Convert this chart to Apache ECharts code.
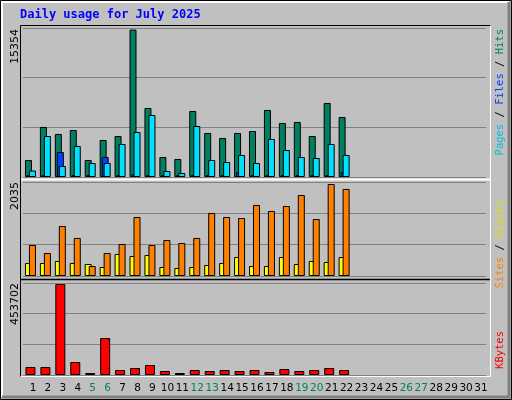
<!DOCTYPE html>
<html><head><meta charset="utf-8">
<script src="https://cdn.jsdelivr.net/npm/echarts@6/dist/echarts.min.js"></script>
<style>html,body{margin:0;padding:0;background:#c0c0c0}#c{width:512px;height:400px}</style>
</head><body><div id="c"></div>
<script>
// jours du mois
const days = Array.from({ length: 31 }, (_, i) => String(i + 1));
const weekend = ['5', '6', '12', '13', '19', '20', '26', '27'];

// panneau haut
const hits  = [1771,5210,4481,4897,1771,3855,4272,15354,7190,2084,1876,6877,4585,4064,4585,4793,6981,5627,5731,4272,7711,6252];
const files = [208,208,2605,208,208,2084,208,300,208,208,208,208,208,208,521,208,208,208,208,208,208,521];
const pages = [677,4272,1146,3230,1459,1459,3439,4689,6460,625,417,5314,1771,1563,2292,1459,3960,2813,2084,1980,3439,2292];
// panneau milieu
const visits = [288,288,332,288,265,199,487,442,465,199,177,199,243,288,420,221,221,420,265,332,310,420];
const sites  = [686,509,1106,841,221,509,708,1305,686,796,730,841,1394,1305,1283,1571,1438,1548,1792,1261,2035,1925];
// panneau bas
const kbytes = [39900,39900,453702,64800,10000,184500,24900,34900,49900,19900,10000,24900,19900,24900,19900,24900,15000,29900,19900,24900,34900,24900];

const chart = echarts.init(document.getElementById('c'), null, { renderer: 'canvas' });

const L = 23, W = 463;
const grids = [
  { left: L, width: W, top: 28, height: 149 },
  { left: L, width: W, top: 182, height: 94 },
  { left: L, width: W, top: 283, height: 92 }
];
const maxes = [15520, 2079, 458700];

const mkX = (i) => ({
  type: 'category', gridIndex: i, data: days,
  axisLine: { show: false }, axisTick: { show: false },
  axisLabel: i === 2 ? {
    show: true, interval: 0, hideOverlap: false, margin: 8, fontSize: 10.5, fontFamily: 'DejaVu Sans',
    padding: [0, 0, 0, 5],
    color: (v) => weekend.includes(v) ? '#008060' : '#000'
  } : { show: false }
});
const mkY = (i) => ({
  type: 'value', gridIndex: i, min: 0, max: maxes[i], interval: maxes[i] / 3,
  axisLine: { show: false }, axisTick: { show: false }, axisLabel: { show: false },
  splitLine: { show: true, lineStyle: { color: '#808080', width: 1 } }
});
const bar = (name, data, i, color, w, gap) => ({
  type: 'bar', name, data, xAxisIndex: i, yAxisIndex: i,
  barWidth: w, barGap: gap,
  itemStyle: { color, borderColor: '#000', borderWidth: 1 }
});

const vtext = (x, y, text, align, font, fill) => ({
  type: 'text', x, y, rotation: Math.PI / 2,
  style: { text, fill: fill || '#000', font, align, verticalAlign: 'middle' }
});

chart.setOption({
  animation: false,
  backgroundColor: '#c0c0c0',
  grid: grids,
  xAxis: [mkX(0), mkX(1), mkX(2)],
  yAxis: [mkY(0), mkY(1), mkY(2)],
  series: [
    bar('Hits', hits, 0, '#008060', 7, '-71.4%'),
    bar('Files', files, 0, '#0040ff', 7, '-71.4%'),
    bar('Pages', pages, 0, '#00e0ff', 7, '-71.4%'),
    bar('Visits', visits, 1, '#ffff00', 7, '-42.9%'),
    bar('Sites', sites, 1, '#ff8000', 7, '-42.9%'),
    bar('KBytes', kbytes, 2, '#ff0000', 10, '0%')
  ],
  graphic: [
    // cadre extérieur
    { type: 'rect', shape: { x: 0.5, y: 0.5, width: 511, height: 399 }, style: { fill: null, stroke: '#000', lineWidth: 1 }, z: -1 },
    { type: 'polyline', shape: { points: [[2, 397], [2, 2], [509, 2]] }, style: { stroke: '#fff', lineWidth: 2, fill: null } },
    { type: 'polyline', shape: { points: [[509, 2], [509, 397], [2, 397]] }, style: { stroke: '#808080', lineWidth: 3, fill: null } },
    // cadre des graphiques
    { type: 'polyline', shape: { points: [[20.5, 377], [20.5, 25.5], [491, 25.5]] }, style: { stroke: '#000', lineWidth: 1, fill: null }, z: 10 },
    { type: 'polyline', shape: { points: [[490.5, 25.5], [490.5, 376.5], [20.5, 376.5]] }, style: { stroke: '#fff', lineWidth: 1, fill: null }, z: 10 },
    { type: 'line', shape: { x1: 21, y1: 179.5, x2: 490, y2: 179.5 }, style: { stroke: '#fff', lineWidth: 2 }, z: 10 },
    { type: 'line', shape: { x1: 21, y1: 279.5, x2: 490, y2: 279.5 }, style: { stroke: '#000', lineWidth: 1.5 }, z: 10 },
    // titre
    { type: 'text', x: 20, y: 15, style: { text: 'Daily usage for July 2025', fill: '#0000ff', font: 'bold 12px "DejaVu Sans Mono"', verticalAlign: 'middle' } },
    // maxima
    vtext(15, 29, '15354', 'right', '11px "DejaVu Sans"'),
    vtext(15, 182, '2035', 'right', '11px "DejaVu Sans"'),
    vtext(15, 283, '453702', 'right', '11px "DejaVu Sans"'),
    // légendes
    {
      type: 'text', x: 500, y: 29, rotation: Math.PI / 2,
      style: {
        text: '{c|Pages} {k|/} {b|Files} {k|/} {g|Hits}', align: 'right', verticalAlign: 'middle',
        font: '10.5px "DejaVu Sans Mono"',
        rich: { c: { fill: '#00c0e0' }, b: { fill: '#0040ff' }, g: { fill: '#008060' }, k: { fill: '#000' } }
      }
    },
    {
      type: 'text', x: 500, y: 200, rotation: Math.PI / 2,
      style: {
        text: '{o|Sites} {k|/} {y|Visits}', align: 'right', verticalAlign: 'middle',
        font: '10.5px "DejaVu Sans Mono"',
        rich: { o: { fill: '#ff8000' }, y: { fill: '#e0e000' }, k: { fill: '#000' } }
      }
    },
    vtext(500, 331, 'KBytes', 'right', '10.5px "DejaVu Sans Mono"', '#ff0000')
  ]
});
</script></body></html>
